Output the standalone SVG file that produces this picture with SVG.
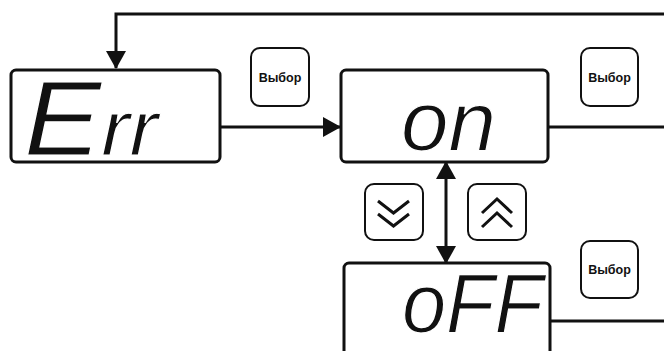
<svg xmlns="http://www.w3.org/2000/svg" width="664" height="351" viewBox="0 0 664 351">
<style>
.box{fill:#fff;stroke:#111;stroke-width:3}
.btn{fill:#fff;stroke:#111;stroke-width:2}
.lbl{font-family:"Liberation Sans",Arial,sans-serif;font-weight:bold;font-size:12.5px;fill:#111;text-anchor:middle}
.seg{font-family:"Liberation Sans",Arial,sans-serif;font-style:italic;fill:#111;stroke:#fff;stroke-width:1.2}
.wire{fill:none;stroke:#111;stroke-width:3}
.chev{fill:none;stroke:#111;stroke-width:3;stroke-linejoin:miter}
</style>
<defs>
<marker id="ah" markerUnits="userSpaceOnUse" markerWidth="18" markerHeight="20" refX="17" refY="10" orient="auto-start-reverse" viewBox="0 0 18 20">
<path d="M0,0 L18,10 L0,20 z" fill="#111"/>
</marker>
</defs>
<rect width="664" height="351" fill="#fff"/>
<g id="connectors">
<polyline class="wire" points="664,14 116,14 116,68" marker-end="url(#ah)"/>
<line class="wire" x1="220" y1="127" x2="340" y2="127" marker-end="url(#ah)"/>
<line class="wire" x1="548" y1="127" x2="664" y2="127"/>
<line class="wire" x1="446" y1="162" x2="446" y2="263" marker-start="url(#ah)" marker-end="url(#ah)"/>
<line class="wire" x1="550" y1="321" x2="664" y2="321"/>
</g>
<g id="node-err">
<rect class="box" x="11" y="70" width="209" height="92" rx="5"/>
<text class="seg" x="24" y="155" font-size="106" textLength="134" lengthAdjust="spacingAndGlyphs">E<tspan font-size="78">rr</tspan></text>
</g>
<g id="node-on">
<rect class="box" x="341" y="70" width="207" height="92" rx="5"/>
<text class="seg" x="401" y="150" font-size="84" textLength="95" lengthAdjust="spacingAndGlyphs">on</text>
</g>
<g id="node-off">
<rect class="box" x="344" y="263" width="206" height="100" rx="5"/>
<text class="seg" x="402" y="332" font-size="84" textLength="141" lengthAdjust="spacingAndGlyphs">oFF</text>
</g>
<g id="btn-select-1">
<rect class="btn" x="251" y="48" width="58" height="58" rx="9"/>
<text class="lbl" x="280" y="82">Выбор</text>
</g>
<g id="btn-select-2">
<rect class="btn" x="581" y="48" width="57" height="58" rx="9"/>
<text class="lbl" x="609.5" y="82">Выбор</text>
</g>
<g id="btn-select-3">
<rect class="btn" x="581" y="241" width="57" height="57" rx="9"/>
<text class="lbl" x="609.5" y="274">Выбор</text>
</g>
<g id="btn-down">
<rect class="btn" x="365" y="184" width="58" height="56" rx="9"/>
<polyline class="chev" points="378,201 393.5,213 409,201"/>
<polyline class="chev" points="378,214 393.5,226 409,214"/>
</g>
<g id="btn-up">
<rect class="btn" x="468" y="184" width="58" height="56" rx="9"/>
<polyline class="chev" points="482,213 497,199 512,213"/>
<polyline class="chev" points="482,227 497,213 512,227"/>
</g>
</svg>
